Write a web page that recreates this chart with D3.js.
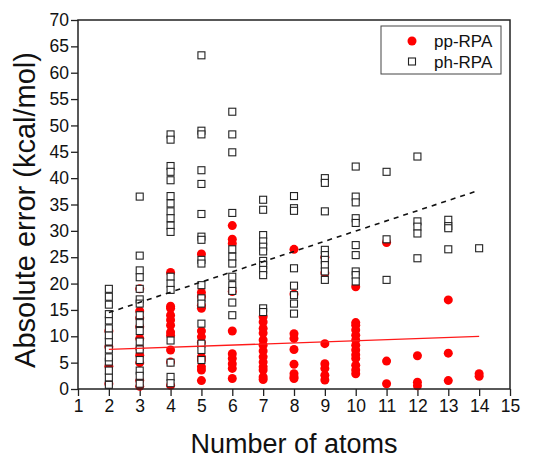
<!DOCTYPE html>
<html>
<head>
<meta charset="utf-8">
<script src="https://cdn.jsdelivr.net/npm/d3@7"></script>
<style>
  body { margin: 0; background: #fff; }
  text { font-family: "Liberation Sans", Arial, sans-serif; fill: #111; }
</style>
</head>
<body>
<svg id="chart" width="550" height="460"></svg>
<script>
// data, one list per atom count
const atoms = [2, 3, 4, 5, 6, 7, 8, 9, 10, 11, 12, 13, 14];

const ppRPA = [
  [11.0, 8.0, 4.3, 1.0],
  [19.0, 14.8, 13.5, 11.8, 9.6, 7.7, 6.4, 5.0, 1.6, 0.5],
  [22.1, 15.7, 15.3, 14.0, 13.1, 12.1, 10.8, 10.2, 7.4, 5.1, 0.7],
  [25.6, 18.3, 17.5, 15.9, 15.3, 11.0, 9.9, 8.8, 6.1, 5.5, 4.2, 3.6, 1.6],
  [31.0, 28.4, 27.6, 18.5, 11.0, 6.7, 5.8, 4.8, 3.9, 2.0],
  [13.7, 12.7, 11.5, 10.6, 9.3, 8.3, 7.2, 6.1, 5.1, 4.2, 3.6, 2.3, 1.8],
  [26.5, 18.0, 10.5, 9.6, 7.5, 4.7, 2.9, 2.3, 2.0],
  [25.0, 22.0, 8.6, 4.8, 3.9, 2.6, 1.7],
  [19.4, 12.6, 12.1, 11.2, 10.2, 9.3, 8.3, 7.4, 6.5, 5.8, 4.5, 3.6, 2.9],
  [27.8, 5.3, 1.0],
  [6.3, 1.3, 0.6],
  [16.9, 6.8, 1.6],
  [2.9, 2.4]
];

const phRPA = [
  [0.8, 2.2, 3.5, 5.2, 6.0, 7.5, 9.0, 10.2, 11.5, 13.0, 14.2, 16.0, 17.5, 19.0],
  [36.5, 25.3, 22.5, 21.2, 19.0, 17.0, 16.2, 14.0, 12.5, 11.0, 9.0, 7.5, 5.5, 3.5, 2.5, 1.0],
  [48.3, 47.3, 42.3, 41.2, 39.6, 36.6, 35.2, 33.7, 32.4, 31.0, 29.8, 21.3, 20.0, 18.8, 9.2, 5.0, 2.3, 1.1],
  [63.3, 49.0, 48.3, 41.5, 38.9, 33.2, 28.9, 28.3, 24.5, 23.8, 19.7, 17.2, 16.2, 12.4, 8.6, 7.4, 5.5],
  [52.6, 48.3, 44.9, 33.4, 26.5, 25.1, 23.8, 21.3, 19.7, 18.6, 16.4, 14.0],
  [35.9, 34.0, 29.2, 28.0, 27.0, 26.1, 24.3, 23.5, 22.6, 21.6, 15.3, 14.6],
  [36.6, 34.3, 33.8, 22.9, 19.6, 17.8, 16.2, 14.3],
  [40.0, 39.1, 33.7, 26.4, 25.4, 24.5, 23.5, 22.3, 20.7],
  [42.2, 36.5, 35.4, 32.4, 31.5, 27.3, 25.4, 22.3, 21.6, 20.4],
  [41.2, 28.4, 20.7],
  [44.1, 31.8, 30.8, 29.5, 24.8],
  [32.1, 30.9, 30.5, 26.5],
  [26.7]
];

// linear fits, end points
const fitX = [2, 14];
const ppFit = [7.5, 10.0];
const phFit = [14.5, 37.7];

const xTicks = [1, 2, 3, 4, 5, 6, 7, 8, 9, 10, 11, 12, 13, 14, 15];
const yTicks = [0, 5, 10, 15, 20, 25, 30, 35, 40, 45, 50, 55, 60, 65, 70];
const seriesNames = ["pp-RPA", "ph-RPA"];

var margin = { top: 20, right: 40, bottom: 71, left: 78 },
  width = 550 - margin.left - margin.right,
  height = 460 - margin.top - margin.bottom;

const svg = d3.select("#chart");
const g = svg.append("g")
  .attr("transform", "translate(" + margin.left + "," + margin.top + ")");

var x = d3.scaleLinear().domain([1, 15]).range([0, width]);
var y = d3.scaleLinear().domain([0, 70]).range([height, 0]);

// flatten into points
const ppPoints = [], phPoints = [];
atoms.forEach((a, i) => {
  ppRPA[i].forEach(v => ppPoints.push({ x: a, y: v }));
  phRPA[i].forEach(v => phPoints.push({ x: a, y: v }));
});

// axes
const xAxis = g.append("g")
  .attr("transform", "translate(0," + height + ")")
  .call(d3.axisBottom(x).tickValues(xTicks).tickFormat(d3.format("d")).tickSize(7).tickPadding(4));
const yAxis = g.append("g")
  .call(d3.axisLeft(y).tickValues(yTicks).tickFormat(d3.format("d")).tickSize(7).tickPadding(2));

[xAxis, yAxis].forEach(ax => {
  ax.select(".domain").remove();
  ax.selectAll("line").attr("stroke", "#222").attr("stroke-width", 1.3);
  ax.selectAll("text").style("font-size", "17.5px").attr("fill", "#111");
});

// pp-RPA circles
g.append("g").selectAll("circle")
  .data(ppPoints)
  .join("circle")
  .attr("cx", d => x(d.x))
  .attr("cy", d => y(d.y))
  .attr("r", 4.5)
  .attr("fill", "#ff0000");

// ph-RPA squares
const sq = 7;
g.append("g").selectAll("rect")
  .data(phPoints)
  .join("rect")
  .attr("x", d => x(d.x) - sq / 2)
  .attr("y", d => y(d.y) - sq / 2)
  .attr("width", sq)
  .attr("height", sq)
  .attr("fill", "#fff")
  .attr("stroke", "#222")
  .attr("stroke-width", 1.1);

// fit lines
const fitLine = vals => d3.line()
  .x((d, i) => x(fitX[i]))
  .y(d => y(d))(vals);

g.append("path")
  .attr("d", fitLine(ppFit))
  .attr("fill", "none")
  .attr("stroke", "#ff1a1a")
  .attr("stroke-width", 1.3);

g.append("path")
  .attr("d", fitLine(phFit))
  .attr("fill", "none")
  .attr("stroke", "#111")
  .attr("stroke-width", 1.6)
  .attr("stroke-dasharray", "5,5");

// frame
g.append("rect")
  .attr("width", width)
  .attr("height", height)
  .attr("fill", "none")
  .attr("stroke", "#222")
  .attr("stroke-width", 1.5);

// legend
const lg = g.append("g").attr("transform", "translate(" + (width - 129) + ",6)");
lg.append("rect")
  .attr("width", 120)
  .attr("height", 48)
  .attr("fill", "#fff")
  .attr("stroke", "#444")
  .attr("stroke-width", 1);
lg.append("circle").attr("cx", 31).attr("cy", 15).attr("r", 4.5).attr("fill", "#ff0000");
lg.append("rect").attr("x", 27.5).attr("y", 32).attr("width", sq).attr("height", sq)
  .attr("fill", "#fff").attr("stroke", "#222").attr("stroke-width", 1.1);
lg.selectAll("text.lab")
  .data(seriesNames)
  .join("text")
  .attr("class", "lab")
  .attr("x", 53)
  .attr("y", (d, i) => 21 + i * 21)
  .style("font-size", "17px")
  .text(d => d);

// axis titles
svg.append("text")
  .attr("x", margin.left + width / 2)
  .attr("y", 453)
  .attr("text-anchor", "middle")
  .style("font-size", "27px")
  .text("Number of atoms");

svg.append("text")
  .attr("transform", "translate(35,210) rotate(-90)")
  .attr("text-anchor", "middle")
  .style("font-size", "29px")
  .text("Absolute error (kcal/mol)");
</script>
</body>
</html>
